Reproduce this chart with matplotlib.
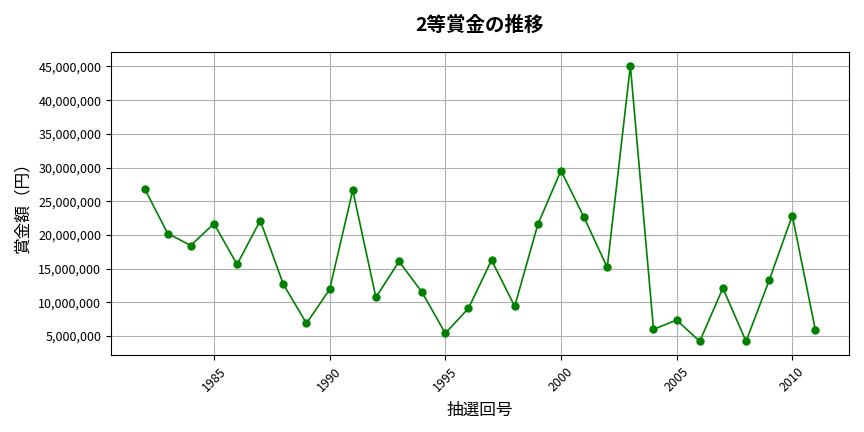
import matplotlib
matplotlib.use("Agg")
import matplotlib.pyplot as plt
from matplotlib.ticker import FuncFormatter

plt.rcParams['font.family'] = ['Noto Sans CJK JP', 'DejaVu Sans']

years = [1982, 1983, 1984, 1985, 1986, 1987, 1988, 1989, 1990, 1991,
         1992, 1993, 1994, 1995, 1996, 1997, 1998, 1999, 2000, 2001,
         2002, 2003, 2004, 2005, 2006, 2007, 2008, 2009, 2010, 2011]
prizes = [26880000, 20210000, 18430000, 21690000, 15620000, 22140000, 12660000,
          6880000, 11920000, 26630000, 10730000, 16070000, 11470000, 5400000,
          9100000, 16260000, 9400000, 21550000, 29550000, 22590000, 15180000,
          45100000, 5990000, 7370000, 4210000, 12110000, 4210000, 13250000,
          22880000, 5840000]

title = "2等賞金の推移"
xlabel = "抽選回号"
ylabel = "賞金額（円）"

fig = plt.figure(figsize=(8.64, 4.32), dpi=100)
ax = fig.add_subplot(111)
ax.plot(years, prizes, color='green', marker='o', markersize=5, linewidth=1.2)
ax.set_title(title, fontsize=14, fontweight='bold', pad=15)
ax.set_xlabel(xlabel, fontsize=12, labelpad=6)
ax.set_ylabel(ylabel, fontsize=12, labelpad=5)
ax.yaxis.set_major_formatter(FuncFormatter(lambda v, p: f"{int(v):,}"))
ax.tick_params(axis='both', labelsize=9)
plt.setp(ax.get_xticklabels(), rotation=45)
ax.grid(True, color='#b0b0b0', linewidth=0.8)
fig.subplots_adjust(left=0.1285, right=0.9826, top=0.8796, bottom=0.178)
fig.savefig("out.png", dpi=100)
